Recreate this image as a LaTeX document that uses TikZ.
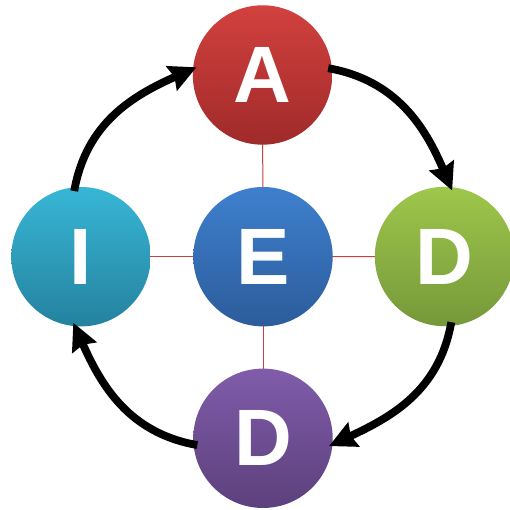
\documentclass[tikz,border=0pt]{standalone}
\usepackage{fontspec}
\setmainfont{Liberation Sans}
\usetikzlibrary{arrows.meta}
\definecolor{redTop}{HTML}{D2413E}\definecolor{redBot}{HTML}{A02A2A}
\definecolor{blueTop}{HTML}{3E80CE}\definecolor{blueBot}{HTML}{2C5C9B}
\definecolor{greenTop}{HTML}{9EC74B}\definecolor{greenBot}{HTML}{76983A}
\definecolor{purpleTop}{HTML}{805CAA}\definecolor{purpleBot}{HTML}{5C407C}
\definecolor{cyanTop}{HTML}{38B6D6}\definecolor{cyanBot}{HTML}{24829E}
\definecolor{spoke}{HTML}{C84040}
\begin{document}
\begin{tikzpicture}[x=1pt,y=1pt,
  ball/.style={circle,minimum size=139.4pt,inner sep=0pt,text=white,
    font=\fontsize{80}{80}\selectfont\bfseries},
  spokeline/.style={draw=spoke,line width=1pt},
  cycle/.style={draw=black,line width=7.8pt,
    -{Stealth[length=27pt,width=26pt,inset=3pt]},
    shorten >=-4pt,shorten <=-4pt,looseness=1}]
\useasboundingbox (0,0) rectangle (509,510);
% spokes from the centre to the outer circles
\coordinate (cE) at (263,253.3);
\draw[spokeline] (cE) -- (262.5,435);
\draw[spokeline] (cE) -- (444.5,253.5);
\draw[spokeline] (cE) -- (263,71.7);
\draw[spokeline] (cE) -- (81,253.3);
% circles
\node[ball,top color=redTop,bottom color=redBot] (A) at (262.5,435) {A};
\node[ball,top color=blueTop,bottom color=blueBot] (E) at (263,253.3) {E};
\node[ball,top color=greenTop,bottom color=greenBot] (Dr) at (444.5,253.5) {D};
\node[ball,top color=purpleTop,bottom color=purpleBot] (Db) at (263,71.7) {D};
\node[ball,top color=cyanTop,bottom color=cyanBot] (I) at (81,253.3) {I};
% clockwise cycle arrows
\draw[cycle] (A.5) to[out=-10,in=113] (Dr.85);
\draw[cycle] (Dr.-85) to[out=-100,in=25] (Db.-5);
\draw[cycle] (Db.185) to[out=170,in=-66] (I.265);
\draw[cycle] (I.95) to[out=80,in=-156] (A.175);
\end{tikzpicture}
\end{document}
